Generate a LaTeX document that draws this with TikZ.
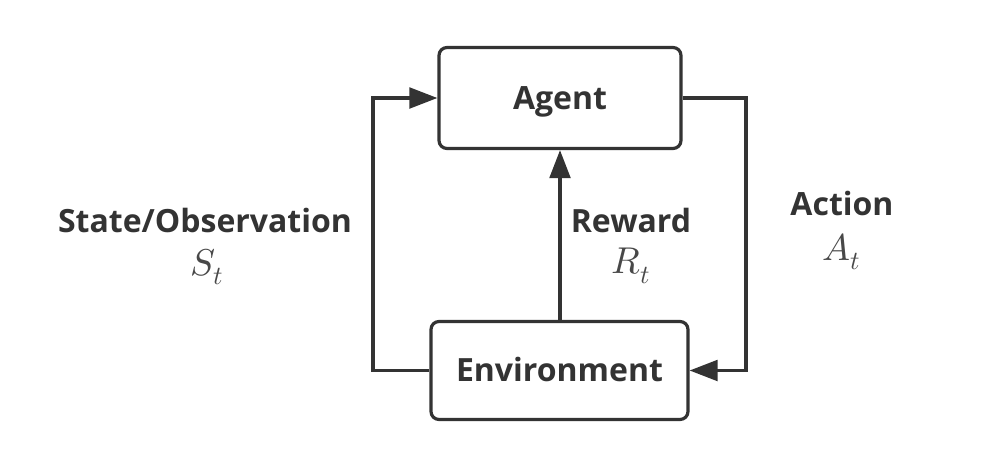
\documentclass[tikz,border=0pt]{standalone}
\usepackage{fontspec}
\usepackage{unicode-math}
\setmainfont{Open Sans}
\setmathfont{Latin Modern Math}
\usetikzlibrary{arrows.meta}
\definecolor{ink}{HTML}{333333}
\definecolor{mathgray}{HTML}{484848}
\tikzset{
  box/.style={draw=ink, line width=2.4pt, rounded corners=6pt, fill=white, inner sep=0pt},
  conn/.style={draw=ink, line width=2.4pt, -{Triangle[length=21pt,width=15.5pt]}},
  lbl/.style={text=ink, font=\bfseries\fontsize{24}{28}\selectfont, inner sep=0pt, text height=17.1pt, text depth=0pt},
  mlbl/.style={text=mathgray, font=\fontsize{28}{32}\selectfont, inner sep=0pt},
}
\begin{document}
\begin{tikzpicture}[x=0.75pt,y=-0.75pt]
\useasboundingbox (0,0) rectangle (986,468);
\node[box, minimum width=181.5pt, minimum height=75.75pt, lbl] (agent) at (560,98) {Agent};
\node[box, minimum width=192.75pt, minimum height=73.5pt, lbl] (env) at (559.5,370.5) {Environment};
\coordinate (lc) at (373,0);
\coordinate (rc) at (746,0);
\draw[conn] (env.west) -| (lc |- env.west) |- (agent.west);
\draw[conn] (agent.east) -| (rc |- agent.east) |- (env.east);
\draw[conn] (env.north -| agent.south) -- (agent.south);
\node[lbl] (stl) at (205,221) {State/Observation};
\node[mlbl] (stm) at (207,267) {$S_t$};
\node[lbl] (rwl) at (631,221) {Reward};
\node[mlbl] (rwm) at (631,266) {$R_t$};
\node[lbl] (acl) at (842,204) {Action};
\node[mlbl] (acm) at (842,252) {$A_t$};
\end{tikzpicture}
\end{document}
